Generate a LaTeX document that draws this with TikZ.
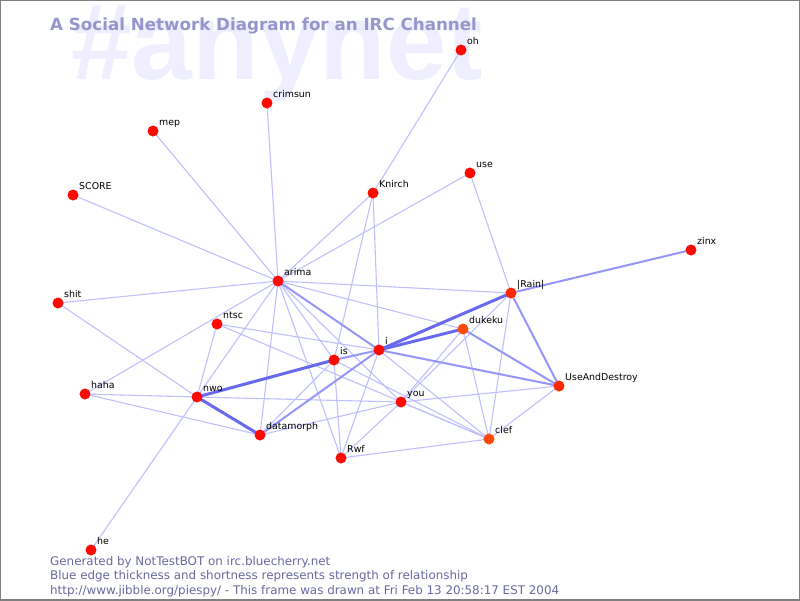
\documentclass[tikz,border=0pt]{standalone}
\usepackage{fontspec}
\setmainfont{DejaVu Sans}
\newfontfamily\bgfont{Liberation Sans}
\definecolor{ethin}{RGB}{192,192,255}
\definecolor{emid}{RGB}{150,150,250}
\definecolor{ethick}{RGB}{105,105,240}
\definecolor{bgtext}{RGB}{238,238,255}
\definecolor{titlec}{RGB}{150,150,205}
\definecolor{footc}{RGB}{105,105,160}
\definecolor{nred}{RGB}{255,10,0}
\definecolor{norange}{RGB}{255,75,10}
\definecolor{nred2}{RGB}{255,40,0}
\begin{document}
\begin{tikzpicture}[x=1pt,y=-1pt,
  ethinline/.style={draw=ethin, line width=1.1pt},
  emidline/.style={draw=emid, line width=2pt},
  ethickline/.style={draw=ethick, line width=3pt},
  pt/.style={circle, fill=nred, inner sep=0pt, minimum size=11pt,
    label={[lbl]45:#1}},
  ptor/.style={pt=#1, fill=norange},
  ptr2/.style={pt=#1, fill=nred2},
  lbl/.style={anchor=base west, inner sep=0pt, xshift=2pt, yshift=1pt,
    font=\fontsize{9.4}{10}\selectfont, text=black},
  foot/.style={anchor=base west, inner sep=0pt, text=footc,
    font=\fontsize{11.9}{13}\selectfont}]
\useasboundingbox (0,0) rectangle (800,600);
\fill[white] (0,0) rectangle (800,600);
% background watermark
\node[anchor=base west, inner sep=0pt, text=bgtext,
  font=\bgfont\bfseries\fontsize{109}{109}\selectfont] (bg) at (71,79) {\#anynet};
\node[anchor=base west, inner sep=0pt, text=titlec,
  font=\bfseries\fontsize{16.7}{18}\selectfont] (title) at (50,30)
  {A Social Network Diagram for an IRC Channel};
% node coordinates
\coordinate (oh) at (461,50);
\coordinate (crimsun) at (267,103);
\coordinate (mep) at (153,131);
\coordinate (SCORE) at (73,195);
\coordinate (Knirch) at (373,193);
\coordinate (use) at (470,173);
\coordinate (zinx) at (691,250);
\coordinate (arima) at (278,281);
\coordinate (shit) at (58,303);
\coordinate (Rain) at (511,293);
\coordinate (ntsc) at (217,324);
\coordinate (dukeku) at (463,329);
\coordinate (i) at (379,350);
\coordinate (is) at (334,360);
\coordinate (UAD) at (559,386);
\coordinate (haha) at (85,394);
\coordinate (nwo) at (197,397);
\coordinate (you) at (401,402);
\coordinate (datamorph) at (260,435);
\coordinate (clef) at (489,439);
\coordinate (Rwf) at (341,458);
\coordinate (he) at (91,550);
% thin edges
\foreach \a/\b in {oh/Knirch, crimsun/arima, mep/arima, SCORE/arima,
  shit/arima, shit/nwo, haha/arima, haha/nwo, haha/datamorph, he/nwo,
  ntsc/nwo, ntsc/i, ntsc/clef, Knirch/arima, Knirch/i, Knirch/is,
  use/arima, use/Rain, arima/Rain, arima/dukeku, arima/nwo,
  arima/datamorph, arima/Rwf, arima/is, arima/you, nwo/you,
  datamorph/is, datamorph/you, Rwf/is, Rwf/i, Rwf/you, Rwf/clef,
  is/clef, i/clef, you/UAD, you/clef, you/dukeku, Rain/you, Rain/clef,
  dukeku/clef, UAD/clef}
  \draw[ethinline] (\a) -- (\b);
% medium edges
\foreach \a/\b in {zinx/Rain, arima/i, datamorph/i, dukeku/UAD,
  i/UAD, Rain/UAD, is/i}
  \draw[emidline] (\a) -- (\b);
% thick edges
\foreach \a/\b in {nwo/is, nwo/datamorph, i/Rain, i/dukeku}
  \draw[ethickline] (\a) -- (\b);
% nodes
\node[pt=oh] (noh) at (oh) {};
\node[pt=crimsun] (ncrimsun) at (crimsun) {};
\node[pt=mep] (nmep) at (mep) {};
\node[pt=SCORE] (nSCORE) at (SCORE) {};
\node[pt=Knirch] (nKnirch) at (Knirch) {};
\node[pt=use] (nuse) at (use) {};
\node[pt=zinx] (nzinx) at (zinx) {};
\node[pt=arima] (narima) at (arima) {};
\node[pt=shit] (nshit) at (shit) {};
\node[ptr2={|Rain|}] (nRain) at (Rain) {};
\node[pt=ntsc] (nntsc) at (ntsc) {};
\node[ptor=dukeku] (ndukeku) at (dukeku) {};
\node[pt=i] (ni) at (i) {};
\node[pt=is] (nis) at (is) {};
\node[ptr2=UseAndDestroy] (nUAD) at (UAD) {};
\node[pt=haha] (nhaha) at (haha) {};
\node[pt=nwo] (nnwo) at (nwo) {};
\node[pt=you] (nyou) at (you) {};
\node[pt=datamorph] (ndatamorph) at (datamorph) {};
\node[ptor=clef] (nclef) at (clef) {};
\node[pt=Rwf] (nRwf) at (Rwf) {};
\node[pt=he] (nhe) at (he) {};
% footer
\node[foot] (f1) at (50,565) {Generated by NotTestBOT on irc.bluecherry.net};
\node[foot] (f2) at (50,579.5) {Blue edge thickness and shortness represents strength of relationship};
\node[foot] (f3) at (50,594) {http://www.jibble.org/piespy/ - This frame was drawn at Fri Feb 13 20:58:17 EST 2004};
\draw[gray, line width=1.5pt] (0,0) rectangle (800,600);
\end{tikzpicture}
\end{document}
